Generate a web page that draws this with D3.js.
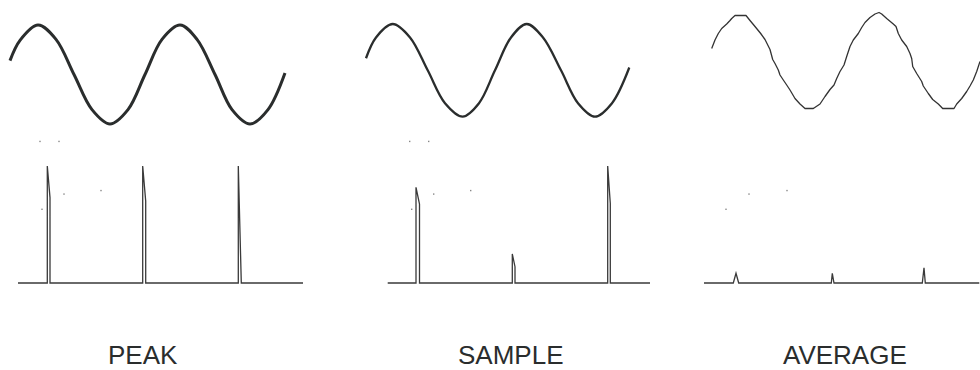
<!DOCTYPE html>
<html>
<head>
<meta charset="utf-8">
<script src="https://cdn.jsdelivr.net/npm/d3@7"></script>
<style>
  html, body { margin: 0; padding: 0; background: #fff; }
  svg { display: block; }
</style>
</head>
<body>
<svg id="chart" width="980" height="370"></svg>
<script>
// ---------- DATA (time in samples, amplitude in % of full scale) ----------
const modes = ["PEAK", "SAMPLE", "AVERAGE"];

// input signal traces [sample, amplitude]
const peakInput = [[0,28],[10,69],[28,100],[46,71],[64,0],[82,-71],[100,-100],[118,-71],[135,0],
  [152,71],[170,100],[187,71],[205,0],[222,-71],[240,-100],[258,-71],[275,3]];
const sampleInput = [[0,26],[10,71],[26.7,100],[44,71],[61.7,0],[79,-71],[96.7,-100],[113,-71],[129,0],
  [145,71],[160.7,100],[177,71],[195,0],[212,-71],[229,-100],[246,-71],[263.3,6]];
const averageInput = [[0,50],[3.3,84],[6.6,110],[10,130],[15,148],[18.3,162],[20,170],[23.3,182],[34.3,182],
  [38.3,162],[43.3,138],[49,110],[53.3,86],[58.3,46],[61,6],[63.3,-10],[66.6,-36],[68.3,-56],[71.6,-76],
  [75,-96],[78.3,-116],[83.3,-150],[88.3,-172],[93.3,-190],[101.6,-190],[108.3,-172],[113.3,-142],[118.3,-114],
  [122.3,-96],[125,-70],[128.3,-42],[132.3,-16],[135,18],[138.3,58],[141.6,84],[146.6,110],[150,134],
  [153.3,154],[158.3,174],[163.3,188],[167.3,194],[170,188],[175,170],[181.6,148],[184.3,138],[186.6,110],
  [190,84],[195,58],[198.3,30],[200,10],[201,-22],[205,-50],[210,-82],[211.6,-100],[216.6,-130],[221,-154],
  [226.6,-172],[231,-190],[242.3,-190],[245,-172],[250,-150],[255,-122],[258.3,-100],[261.6,-76],[265,-42],[268.3,-2]];

// detector output traces [sample, level]
const peakOutput = [[0,0],[29.3,0],[29.3,100],[32,73],[32,0],[124.7,0],[124.7,100],[127.7,70],[127.7,0],
  [220.3,0],[220.3,100],[223.3,0],[285,0]];
const sampleOutput = [[0,0],[28.3,0],[28.3,81.8],[31.8,67.5],[31.8,0],[124.6,0],[124.6,24.8],[127.3,13.9],[127.3,0],
  [220,0],[220,100],[222.6,68],[222.6,0],[262.3,0]];
const averageOutput = [[0,0],[29.3,0],[32,8.3],[34.7,0],[127.3,0],[128.3,8.3],[130,0],
  [218.3,0],[220,13],[221.3,0],[275.3,0]];

// faint stray marks [sample, level]
const specksFull = [[22,121],[41,121],[24,63],[46,76],[83,79]];
const specksAvg = [[22,63],[45,76],[83,79]];

const inputs = [peakInput, sampleInput, averageInput];
const outputs = [peakOutput, sampleOutput, averageOutput];
const specks = [specksFull, specksFull, specksAvg];

// ---------- LAYOUT ----------
const layout = [
  { inX: [10, 285], inDom: [0, 275], inY: [124, 25], inDomY: [-100, 100], inW: 3.0,
    outX: [18, 303], outDom: [0, 285], labelX: 108 },
  { inX: [366, 629.3], inDom: [0, 263.3], inY: [116.6, 24], inDomY: [-100, 100], inW: 2.3,
    outX: [387.7, 650], outDom: [0, 262.3], labelX: 458 },
  { inX: [711.7, 980], inDom: [0, 268.3], inY: [108.5, 13.5], inDomY: [-190, 190], inW: 1.3,
    outX: [704, 979.3], outDom: [0, 275.3], labelX: 783 }
];
const outYRange = [283, 166];

const svg = d3.select("#chart");

modes.forEach((m, i) => {
  const L = layout[i];
  const g = svg.append("g");

  const x = d3.scaleLinear().domain(L.inDom).range(L.inX);
  const y = d3.scaleLinear().domain(L.inDomY).range(L.inY);
  const line = d3.line().x(d => x(d[0])).y(d => y(d[1]))
    .curve(i === 2 ? d3.curveLinear : d3.curveCatmullRom.alpha(0.5));
  g.append("path").datum(inputs[i])
    .attr("d", line)
    .attr("fill", "none")
    .attr("stroke", i === 2 ? "#333" : "#2a2d2d")
    .attr("stroke-width", L.inW)
    .attr("stroke-linejoin", "round");

  const xo = d3.scaleLinear().domain(L.outDom).range(L.outX);
  const yo = d3.scaleLinear().domain([0, 100]).range(outYRange);
  const line2 = d3.line().x(d => xo(d[0])).y(d => yo(d[1]));
  g.append("path").datum(outputs[i])
    .attr("d", line2)
    .attr("fill", "none")
    .attr("stroke", "#3a3a3a")
    .attr("stroke-width", 1.3);

  g.selectAll("rect.speck").data(specks[i]).join("rect")
    .attr("class", "speck")
    .attr("x", d => xo(d[0]) - 0.7)
    .attr("y", d => yo(d[1]) - 0.7)
    .attr("width", 1.4).attr("height", 1.4)
    .attr("fill", "#888");

  g.append("text")
    .attr("x", L.labelX)
    .attr("y", 364)
    .attr("font-family", "'Liberation Sans', Arial, sans-serif")
    .attr("font-size", 26)
    .attr("fill", "#2a2d2d")
    .text(m);
});
</script>
</body>
</html>
